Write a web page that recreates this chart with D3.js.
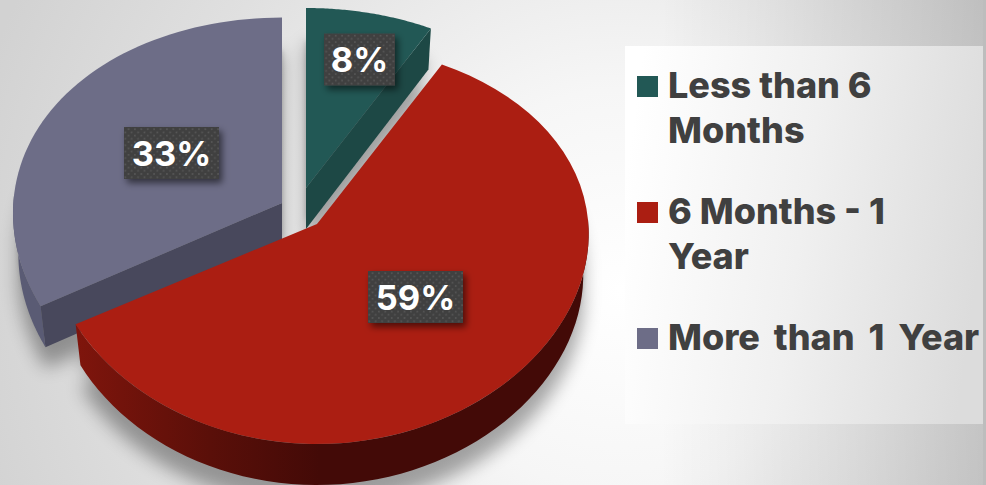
<!DOCTYPE html>
<html><head><meta charset="utf-8">
<script src="https://cdn.jsdelivr.net/npm/d3@7"></script>
<style>html,body{margin:0;padding:0;background:#fff;overflow:hidden}svg{display:block}</style>
</head><body><svg id="chart" width="986" height="485"></svg>
<script>
// Tenure split shown as an exploded, tilted pie
const categories = ["Less than 6 Months", "6 Months - 1 Year", "More than 1 Year"];
const shares = [8, 59, 33];
const valueLabels = ["8%", "59%", "33%"];
const legendLines = [["Less than 6", "Months"], ["6 Months - 1", "Year"], ["More than 1 Year"]];
const topColors = ["#225855", "#ab1e12", "#6d6d87"];
const cutColors = ["#1d4845", "#ab1e12", "#48485c"];

// Each wedge's apex and vertical size on the tilted disc
const apexX = [306, 317, 282], apexY = [188, 224, 203], wedgeScale = [1, 1, 1.03];
const labelX = [359.5, 415.5, 171.5], labelY = [59.5, 297, 153];
const W = 986, H = 485, RX = 270, RY = 198, TILT_X = 0.05, TILT_Y = 0.1, SKEW = -0.005, DEPTH = 41, TAPER = 0.98;

const svg = d3.select("#chart");
const defs = svg.append("defs");

const bg = defs.append("radialGradient").attr("id", "bg").attr("gradientUnits", "userSpaceOnUse")
  .attr("cx", 620).attr("cy", 290).attr("r", 670);
[[0, "#ffffff"], [0.3, "#f6f6f6"], [0.7, "#e0e0e0"], [1, "#d2d2d2"]].forEach(([o, c]) => bg.append("stop").attr("offset", o).attr("stop-color", c));

const sideFade = defs.append("linearGradient").attr("id", "sideFade").attr("gradientUnits", "userSpaceOnUse")
  .attr("x1", 660).attr("x2", 986).attr("y1", 0).attr("y2", 0);
[[0, 0], [1, 0.15]].forEach(([o, a]) => sideFade.append("stop").attr("offset", o).attr("stop-color", "#000").attr("stop-opacity", a));

const panel = defs.append("linearGradient").attr("id", "panel").attr("x1", 0).attr("x2", 1).attr("y1", 0.35).attr("y2", 0.5);
[[0, "#ffffff"], [0.5, "#f0f0f0"], [1, "#dcdcdc"]].forEach(([o, c]) => panel.append("stop").attr("offset", o).attr("stop-color", c));

const rim = defs.append("linearGradient").attr("id", "rimRed").attr("gradientUnits", "userSpaceOnUse")
  .attr("x1", 76).attr("x2", 320).attr("y1", 0).attr("y2", 0);
[[0, "#7f150c"], [0.55, "#5a0f09"], [1, "#430a07"]].forEach(([o, c]) => rim.append("stop").attr("offset", o).attr("stop-color", c));

const blur = defs.append("filter").attr("id", "soft").attr("x", "-20%").attr("y", "-20%").attr("width", "140%").attr("height", "140%");
blur.append("feGaussianBlur").attr("stdDeviation", 9);
const blurTight = defs.append("filter").attr("id", "softTight").attr("x", "-20%").attr("y", "-20%").attr("width", "140%").attr("height", "140%");
blurTight.append("feGaussianBlur").attr("stdDeviation", 2.5);

const boxShadow = defs.append("filter").attr("id", "boxShadow").attr("x", "-30%").attr("y", "-30%").attr("width", "170%").attr("height", "170%");
boxShadow.append("feDropShadow").attr("dx", 3).attr("dy", 4).attr("stdDeviation", 3.5).attr("flood-color", "#000").attr("flood-opacity", 0.55);

const dots = defs.append("pattern").attr("id", "dots").attr("width", 6.4).attr("height", 6.4).attr("patternUnits", "userSpaceOnUse");
dots.append("rect").attr("width", 6.4).attr("height", 6.4).attr("fill", "#404040");
dots.append("rect").attr("x", 1).attr("y", 1).attr("width", 1.6).attr("height", 1.6).attr("fill", "#585858");
dots.append("rect").attr("x", 4.2).attr("y", 4.2).attr("width", 1.6).attr("height", 1.6).attr("fill", "#585858");

svg.append("rect").attr("width", W).attr("height", H).attr("fill", "url(#bg)");
svg.append("rect").attr("width", W).attr("height", H).attr("fill", "url(#sideFade)");

const arcs = d3.pie().sort(null).startAngle(0).endAngle(2 * Math.PI)(shares);

// Perspective mapping from an angle on the disc to the page; dropped points converge slightly
function project(i, a, drop = 0) {
  const wx = 1 + TILT_X * Math.cos(a) + SKEW * Math.sin(a);
  const wy = 1 + TILT_Y * Math.cos(a);
  const taper = drop ? TAPER : 1;
  return [apexX[i] + taper * RX * Math.sin(a) / wx,
          apexY[i] - wedgeScale[i] * RY * Math.cos(a) / wy + drop];
}
const line = d3.line();
const sweep = (a0, a1) => d3.range(0, 61).map(k => a0 + (a1 - a0) * k / 60);
const topFace = (i, drop = 0) => line([[apexX[i], apexY[i] + drop], ...sweep(arcs[i].startAngle, arcs[i].endAngle).map(a => project(i, a, drop))]) + "Z";
const rimFace = (i, a0, a1) => {
  const s = sweep(a0, a1);
  return line([...s.map(a => project(i, a)), ...s.reverse().map(a => project(i, a, DEPTH))]) + "Z";
};
const cutFace = (i, a) => line([[apexX[i], apexY[i]], project(i, a), project(i, a, DEPTH), [apexX[i], apexY[i] + DEPTH]]) + "Z";

// Soft ground shadow under every wedge, with a tighter one that fills the gaps
const shadow = svg.append("g").attr("filter", "url(#soft)").attr("fill", "#000").attr("opacity", 0.34);
arcs.forEach((d, i) => {
  shadow.append("path").attr("d", topFace(i, 36));
  shadow.append("path").attr("d", topFace(i, 62));
});
const gapShadow = svg.append("g").attr("filter", "url(#softTight)").attr("fill", "#000").attr("opacity", 0.18);
arcs.forEach((d, i) => gapShadow.append("path").attr("d", topFace(i, 33)));

// Grey wedge
const a2 = arcs[2];
svg.append("path").attr("d", rimFace(2, a2.startAngle, a2.startAngle + 0.55)).attr("fill", "#5a5b74");
svg.append("path").attr("d", cutFace(2, a2.startAngle)).attr("fill", cutColors[2]);
svg.append("path").attr("d", topFace(2)).attr("fill", topColors[2]);

// Teal wedge
svg.append("path").attr("d", cutFace(0, arcs[0].endAngle)).attr("fill", cutColors[0]);
svg.append("path").attr("d", topFace(0)).attr("fill", topColors[0]);

// Red wedge
svg.append("path").attr("d", rimFace(1, 1.55, arcs[1].endAngle)).attr("fill", "url(#rimRed)");
svg.append("path").attr("d", topFace(1)).attr("fill", topColors[1]);

// Value labels
const label = svg.append("g").selectAll("g").data(valueLabels).join("g")
  .attr("transform", (d, i) => `translate(${labelX[i]},${labelY[i]})`);
label.append("rect").attr("x", (d, i) => i === 0 ? -35.5 : -47.5).attr("y", -26)
  .attr("width", (d, i) => i === 0 ? 71 : 95).attr("height", 52)
  .attr("fill", "url(#dots)").attr("filter", "url(#boxShadow)");
label.append("text").text(d => d).attr("text-anchor", "middle").attr("y", 12.5)
  .attr("font-family", "Inter").attr("font-weight", 700).attr("font-size", 34.5).attr("fill", "#fff");

// Legend panel and the thin strip along the right edge
svg.append("rect").attr("x", 625).attr("y", 46).attr("width", 358).attr("height", 378).attr("fill", "url(#panel)");
svg.append("rect").attr("x", 983).attr("y", 0).attr("width", 3).attr("height", H).attr("fill", "#bdbdbd");

const legendTop = [76, 202, 328];
const legend = svg.append("g").selectAll("g").data(categories).join("g")
  .attr("transform", (d, i) => `translate(637,${legendTop[i]})`);
legend.append("rect").attr("width", 21).attr("height", 21).attr("fill", (d, i) => topColors[i]);
legend.each(function (d, i) {
  d3.select(this).selectAll("text").data(legendLines[i]).join("text")
    .text(t => t).attr("x", 31).attr("y", (t, k) => 22 + k * 45)
    .attr("word-spacing", legendLines[i].length === 1 ? 6 : 0)
    .attr("font-family", "Inter").attr("font-weight", 800).attr("font-size", 36).attr("fill", "#404040");
});
</script></body></html>
